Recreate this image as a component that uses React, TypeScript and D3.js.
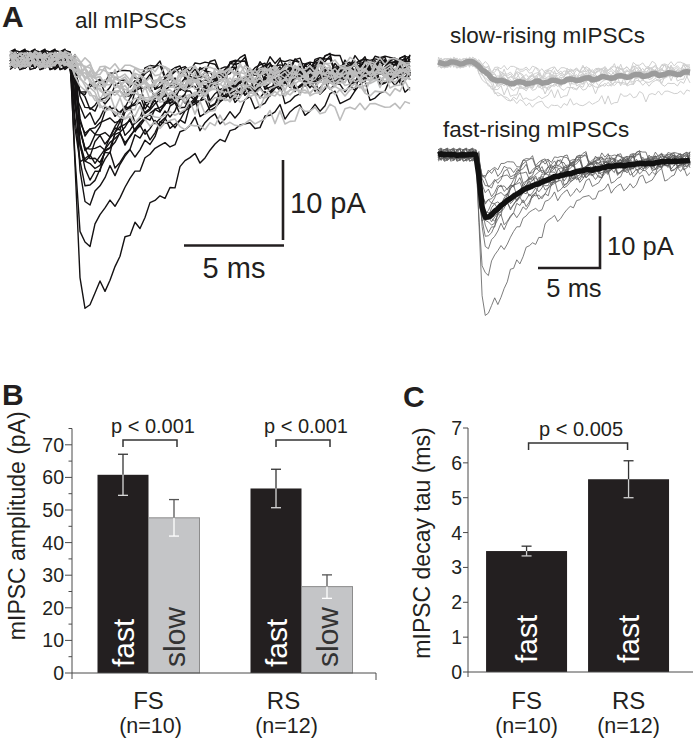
import React from "react";
import * as d3 from "d3";

// ---------- Panel A: mIPSC traces (amplitudes in pA, time constants in ms) ----------
const fastAmp = [31, 22.5, 17.5, 15, 14, 13.5, 13, 12.5, 12, 11.5, 10.5, 9.5, 8.5, 7.5, 6.5, 5, 4, 3.5];
const fastTau = [4.2, 3.6, 3.2, 4.5, 3.0, 3.8, 2.6, 3.4, 4.0, 2.8, 3.5, 3.1, 2.4, 3.9, 2.2, 3.0, 2.5, 2.0];
const fastOnset = [3.15, 3.1, 3.2, 3.1, 3.25, 3.15, 3.1, 3.3, 3.2, 3.15, 3.1, 3.2, 3.25, 3.1, 3.3, 3.2, 3.15, 3.1];
const slowAmp = [8, 6.5, 5.5, 5, 4.5, 4, 3.5, 3.5, 3, 3, 2.5, 2.5, 2, 1.5];
const slowTau = [40, 18, 15, 20, 14, 16, 18, 15, 12, 20, 16, 14, 18, 15];
const slowOnset = [3.1, 3.2, 3.0, 3.15, 3.1, 3.25, 3.05, 3.2, 3.1, 3.0, 3.15, 3.2, 3.1, 3.05];
const noiseTable = [0.3, -0.4, 0.6, -0.1, 0.5, -0.6, 0.2, 0.7, -0.3, 0.1, -0.7, 0.4, -0.2, 0.6, -0.5, 0.0, 0.5, -0.4, 0.3, -0.6, 0.8, -0.1, 0.2, -0.5, 0.4, -0.3, 0.6, -0.7, 0.1, 0.3, -0.2, 0.5, -0.4, 0.7, -0.6, 0.2, -0.1, 0.4, -0.5, 0.3, 0.6, -0.3, -0.7, 0.5, 0.1, -0.4, 0.2, 0.6, -0.2, -0.5, 0.4, 0.0, -0.3];

// ---------- Panel B: amplitude ----------
const groupsB = ["FS", "RS"];
const groupN = ["(n=10)", "(n=12)"];
const ampFast = [60.8, 56.6];
const ampFastErr = [6.3, 5.9];
const ampSlow = [47.6, 26.5];
const ampSlowErr = [5.6, 3.6];
const pLabelsB = ["p < 0.001", "p < 0.001"];
const ticksB = [0, 10, 20, 30, 40, 50, 60, 70];
const minorTicksB = [5, 15, 25, 35, 45, 55, 65, 75];

// ---------- Panel C: decay tau ----------
const groupsC = ["FS", "RS"];
const tauFast = [3.47, 5.53];
const tauFastErr = [0.14, 0.53];
const pLabelC = "p < 0.005";
const ticksC = [0, 1, 2, 3, 4, 5, 6, 7];

const FONT = "'Liberation Sans', Arial, Helvetica, sans-serif";
const INK = "#231f20";
const AXIS = "#4a4a4a";

const DT = 0.25;
const T_END = 20;
const NOISE_FAST = 1.7;
const NOISE_SLOW = 1.4;
const times = d3.range(0, T_END + DT / 2, DT);

function shape(t: number, tr: number, td1: number, td2: number, f: number) {
  if (t <= 0) return 0;
  return (1 - Math.exp(-t / tr)) * (f * Math.exp(-t / td1) + (1 - f) * Math.exp(-t / td2));
}
function peakOf(tr: number, td1: number, td2: number, f: number) {
  let m = 0;
  for (let t = 0; t < 15; t += 0.01) m = Math.max(m, shape(t, tr, td1, td2, f));
  return m;
}

const fastTraces: number[][] = fastAmp.map((a, k) => {
  const norm = peakOf(0.25, fastTau[k], 12, 0.72);
  return times.map((t, i) =>
    -a * shape(t - fastOnset[k], 0.25, fastTau[k], 12, 0.72) / norm +
    NOISE_FAST * noiseTable[(i * 7 + k * 13) % noiseTable.length]
  );
});
const slowTraces: number[][] = slowAmp.map((a, k) => {
  const norm = peakOf(1.2, slowTau[k], 12, 1);
  return times.map((t, i) =>
    -a * shape(t - slowOnset[k], 1.2, slowTau[k], 12, 1) / norm +
    NOISE_SLOW * noiseTable[(i * 11 + k * 17 + 5) % noiseTable.length]
  );
});
const fastMean = times.map((_, i) => d3.mean(fastTraces, (tr) => tr[i]) as number);
const slowMean = times.map((_, i) => d3.mean(slowTraces, (tr) => tr[i]) as number);

export default function App() {
  // Panel A scales
  const xA = d3.scaleLinear().domain([0, T_END]).range([10, 410]);
  const yA = d3.scaleLinear().domain([0, -10]).range([60, 140]);
  const xR = d3.scaleLinear().domain([0, T_END]).range([438, 690]);
  const yRs = d3.scaleLinear().domain([0, -10]).range([63, 114.7]);
  const yRf = d3.scaleLinear().domain([0, -10]).range([155, 206.7]);

  const lineOf = (xs: d3.ScaleLinear<number, number>, ys: d3.ScaleLinear<number, number>) =>
    d3.line<number>().x((_, i) => xs(times[i])).y((v) => ys(v));

  const lineA = lineOf(xA, yA);
  const lineRs = lineOf(xR, yRs);
  const lineRf = lineOf(xR, yRf);

  // Panel B scales
  const yB = d3.scaleLinear().domain([0, 75]).range([673, 428.5]);
  const xB = d3.scalePoint<string>().domain(groupsB).range([72, 378]).padding(0.5);
  const xSub = d3.scaleBand<string>().domain(["fast", "slow"]).range([-51, 51]);
  const bw = xSub.bandwidth();

  // Panel C scales
  const yC = d3.scaleLinear().domain([0, 7]).range([672, 428]);
  const xC = d3.scaleBand<string>().domain(groupsC).range([468, 693])
    .paddingInner(0.206).paddingOuter(0.206).align(0.43);
  const bwC = xC.bandwidth();

  const errorBar = (cx: number, ys: d3.ScaleLinear<number, number>, v: number, e: number, dark: string, light: string, key: string) => (
    <g key={key}>
      <line x1={cx} x2={cx} y1={ys(v + e)} y2={ys(v)} stroke={dark} strokeWidth={1.3} />
      <line x1={cx - 5} x2={cx + 5} y1={ys(v + e)} y2={ys(v + e)} stroke={dark} strokeWidth={1.3} />
      <line x1={cx} x2={cx} y1={ys(v)} y2={ys(v - e)} stroke={light} strokeWidth={1.3} />
      <line x1={cx - 5} x2={cx + 5} y1={ys(v - e)} y2={ys(v - e)} stroke={light} strokeWidth={1.3} />
    </g>
  );

  const bracket = (x1: number, x2: number, yTop: number, yLeg: number, label: string, key: string) => (
    <g key={key}>
      <path d={`M${x1},${yLeg}V${yTop}H${x2}V${yLeg}`} fill="none" stroke="#333" strokeWidth={1.5} />
      <text x={(x1 + x2) / 2 + 3} y={yTop - 7} textAnchor="middle" fontSize={20} fill={INK}>{label}</text>
    </g>
  );

  const barLabel = (cx: number, bottom: number, label: string, color: string, key: string) => (
    <text key={key} transform={`translate(${cx},${bottom}) rotate(-90)`} dy="0.36em" fontSize={30} fill={color}>{label}</text>
  );

  return (
    <svg width={695} height={746} style={{ position: "absolute", left: 0, top: 0, display: "block", background: "#fff" }} fontFamily={FONT}>
      {/* ---------------- Panel A ---------------- */}
      <text x={2} y={27} fontSize={30} fontWeight="bold" fill={INK}>A</text>
      <text x={75} y={28} fontSize={22.5} fill={INK}>all mIPSCs</text>
      <g fill="none" strokeLinejoin="round">
        {fastTraces.map((tr, k) => (
          <path key={"fa" + k} d={lineA(tr) as string} stroke="#141213" strokeWidth={1.4} />
        ))}
        {slowTraces.map((tr, k) => (
          <path key={"sa" + k} d={lineA(tr) as string} stroke="#bdbdbd" strokeWidth={1.6} />
        ))}
      </g>
      {/* scale bars left */}
      <line x1={283} x2={283} y1={240} y2={240 - (yA(-10) - yA(0))} stroke={INK} strokeWidth={2.6} />
      <line x1={284} x2={284 - (xA(5) - xA(0))} y1={245.5} y2={245.5} stroke={INK} strokeWidth={2.6} />
      <text x={290} y={213} fontSize={29} fill={INK}>10 pA</text>
      <text x={234} y={278} fontSize={29} textAnchor="middle" fill={INK}>5 ms</text>

      <text x={450} y={43} fontSize={22.5} fill={INK}>slow-rising mIPSCs</text>
      <g fill="none" strokeLinejoin="round">
        {slowTraces.map((tr, k) => (
          <path key={"sr" + k} d={lineRs(tr) as string} stroke="#cfcfcf" strokeWidth={1} />
        ))}
        <path d={lineRs(slowMean) as string} stroke="#9b9b9b" strokeWidth={5.5} />
      </g>
      <text x={443} y={137} fontSize={22.5} fill={INK}>fast-rising mIPSCs</text>
      <g fill="none" strokeLinejoin="round">
        {fastTraces.map((tr, k) => (
          <path key={"fr" + k} d={lineRf(tr) as string} stroke="#5a5a5a" strokeWidth={0.8} />
        ))}
        <path d={lineRf(fastMean) as string} stroke="#111" strokeWidth={5.5} />
      </g>
      {/* scale bars right */}
      <path d={`M${601 - (xR(5) - xR(0))},268H600V${268 - (yRf(-10) - yRf(0))}`} fill="none" stroke={INK} strokeWidth={2.6} />
      <text x={607} y={255} fontSize={25.5} fill={INK}>10 pA</text>
      <text x={574} y={297} fontSize={25.5} textAnchor="middle" fill={INK}>5 ms</text>

      {/* ---------------- Panel B ---------------- */}
      <text x={2} y={405} fontSize={30} fontWeight="bold" fill={INK}>B</text>
      <text transform={`translate(17,${(yB(0) + yB(75)) / 2 - 25}) rotate(-90)`} textAnchor="middle" dy="0.36em" fontSize={23} fill={INK}>mIPSC amplitude (pA)</text>
      {groupsB.map((g, i) => {
        const cx = xB(g) as number;
        const fx = cx + (xSub("fast") as number);
        const sx = cx + (xSub("slow") as number);
        return (
          <g key={"b" + g}>
            <rect x={fx} y={yB(ampFast[i])} width={bw} height={yB(0) - yB(ampFast[i])} fill={INK} />
            <rect x={sx} y={yB(ampSlow[i])} width={bw} height={yB(0) - yB(ampSlow[i])} fill="#c4c5c7" stroke="#8c8c8c" strokeWidth={1} />
            {errorBar(fx + bw / 2, yB, ampFast[i], ampFastErr[i], "#333", "#d8d8d8", "ef" + g)}
            {errorBar(sx + bw / 2, yB, ampSlow[i], ampSlowErr[i], "#555", "#ffffff", "es" + g)}
            {barLabel(fx + bw / 2, yB(0) - 6, "fast", "#ffffff", "lf" + g)}
            {barLabel(sx + bw / 2, yB(0) - 6, "slow", "#333", "ls" + g)}
            {bracket(fx + bw / 2, sx + bw / 2 + 3, yB(71.5), yB(69.3), pLabelsB[i], "pb" + g)}
            <text x={cx + (i === 0 ? 0 : -18)} y={709} textAnchor="middle" fontSize={24} fill={INK}>{g}</text>
            <text x={cx + (i === 0 ? 2 : -15)} y={733} textAnchor="middle" fontSize={21.5} fill={INK}>{groupN[i]}</text>
          </g>
        );
      })}
      {/* axes B */}
      <g stroke={AXIS} strokeWidth={1}>
        <line x1={72} x2={72} y1={yB(0)} y2={yB(75)} />
        <line x1={72} x2={376} y1={yB(0)} y2={yB(0)} />
        <line x1={72} x2={72} y1={yB(0)} y2={yB(0) + 6} />
        <line x1={376} x2={376} y1={yB(0)} y2={yB(0) + 7} />
        {ticksB.map((t) => <line key={"tb" + t} x1={65} x2={72} y1={yB(t)} y2={yB(t)} />)}
        {minorTicksB.map((t) => <line key={"mb" + t} x1={68.5} x2={72} y1={yB(t)} y2={yB(t)} />)}
      </g>
      {ticksB.map((t) => (
        <text key={"lb" + t} x={64} y={yB(t)} dy="0.36em" textAnchor="end" fontSize={19.5} fill={INK}>{t}</text>
      ))}

      {/* ---------------- Panel C ---------------- */}
      <text x={403} y={407} fontSize={30} fontWeight="bold" fill={INK}>C</text>
      <text transform={`translate(422,${(yC(0) + yC(7)) / 2 - 7}) rotate(-90)`} textAnchor="middle" dy="0.36em" fontSize={23} fill={INK}>mIPSC decay tau (ms)</text>
      {groupsC.map((g, i) => {
        const x0 = xC(g) as number;
        const cx = x0 + bwC / 2;
        return (
          <g key={"c" + g}>
            <rect x={x0} y={yC(tauFast[i])} width={bwC} height={yC(0) - yC(tauFast[i])} fill={INK} />
            {errorBar(cx, yC, tauFast[i], tauFastErr[i], "#333", "#cfcfcf", "ec" + g)}
            {barLabel(cx, yC(0) - 9, "fast", "#ffffff", "lc" + g)}
            <text x={cx} y={709} textAnchor="middle" fontSize={24} fill={INK}>{g}</text>
            <text x={cx} y={733} textAnchor="middle" fontSize={21.5} fill={INK}>{groupN[i]}</text>
          </g>
        );
      })}
      {bracket((xC("FS") as number) + bwC / 2 + 2, (xC("RS") as number) + bwC / 2 - 1, yC(6.57), yC(6.37), pLabelC, "pc")}
      <g stroke={AXIS} strokeWidth={1}>
        <line x1={468} x2={468} y1={yC(0)} y2={yC(7)} />
        <line x1={468} x2={693} y1={yC(0)} y2={yC(0)} />
        <line x1={468} x2={468} y1={yC(0)} y2={yC(0) + 5} />
        {ticksC.map((t) => <line key={"tc" + t} x1={463} x2={468} y1={yC(t)} y2={yC(t)} />)}
      </g>
      {ticksC.map((t) => (
        <text key={"lc" + t} x={462} y={yC(t)} dy="0.36em" textAnchor="end" fontSize={19.5} fill={INK}>{t}</text>
      ))}
    </svg>
  );
}
